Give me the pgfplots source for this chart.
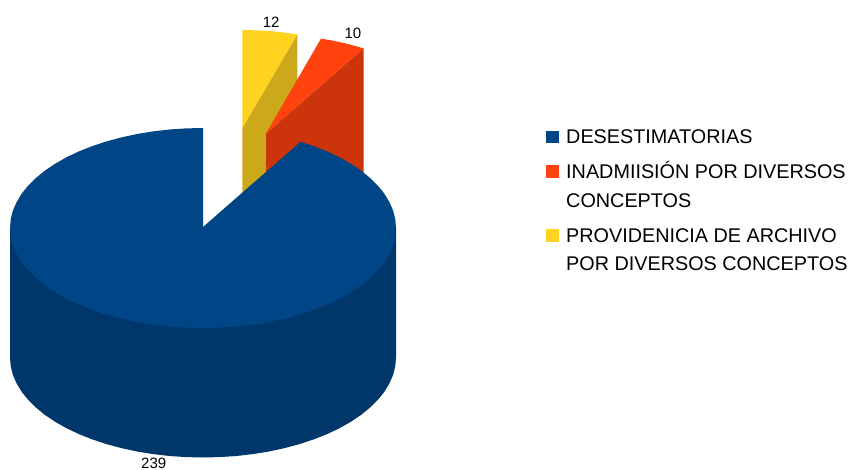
\documentclass[border=0pt]{standalone}
\usepackage{pgfplots}
\pgfplotsset{compat=1.18}
\usepackage{fontspec}
\setmainfont{Liberation Sans}
\definecolor{blueTop}{HTML}{004586}
\definecolor{blueSide}{HTML}{00376B}
\definecolor{redTop}{HTML}{FF420E}
\definecolor{redSide}{HTML}{CC350B}
\definecolor{yelTop}{HTML}{FFD320}
\definecolor{yelSide}{HTML}{CCA91A}
\tikzset{
  lab/.style={anchor=base west, inner sep=0pt, font=\fontsize{15}{18}\selectfont, text=black},
  leg/.style={anchor=base west, inner sep=0pt, font=\fontsize{19.8}{24}\selectfont, text=black},
}
\begin{document}
\begin{tikzpicture}
\path[use as bounding box] (0,0) rectangle (850pt,470pt);
\begin{axis}[
  at={(0,0)}, anchor=south west,
  scale only axis, width=850pt, height=470pt,
  xmin=0, xmax=850, ymin=0, ymax=470, y dir=reverse,
  hide axis, clip=false,
  every axis plot/.append style={draw=none, line width=0pt},
]
% yellow slice (12)
\addplot[fill=yelSide] coordinates {(297.3,34.3) (242.3,128) (242.3,258) (297.3,164)} --cycle;
\addplot[fill=yelTop] coordinates {(242.3,30) (259.1,30.4) (275.8,31.5) (297.3,34.3) (242.3,128)} --cycle;
% red slice (10)
\addplot[fill=redSide] coordinates {(363.6,48.3) (266,133.5) (266,263) (363.6,178)} --cycle;
\addplot[fill=redTop] coordinates {(321,38.6) (332,40.5) (347.6,43.9) (363.6,48.3) (266,133.5)} --cycle;
% blue slice (239), side wall
\addplot[fill=blueSide] coordinates {
(10.0,228) (10.0,357.5) (10.7,366.2) (12.9,374.9) (16.6,383.4) (21.6,391.7) (28.1,399.8) (35.9,407.5)
(44.9,414.9) (55.2,421.8) (66.5,428.2) (78.9,434.1) (92.3,439.4) (106.5,444.1) (121.4,448.1) (137.0,451.5)
(153.1,454.1) (169.5,456.0) (186.2,457.1) (203.0,457.5) (219.8,457.1) (236.5,456.0) (252.9,454.1) (269.0,451.5)
(284.6,448.1) (299.5,444.1) (313.7,439.4) (327.1,434.1) (339.5,428.2) (350.8,421.8) (361.1,414.9) (370.1,407.5)
(377.9,399.8) (384.4,391.7) (389.4,383.4) (393.1,374.9) (395.3,366.2) (396.0,357.5) (396.0,228)} --cycle;
% blue slice, top
\addplot[fill=blueTop] coordinates {
(203.0,128.0) (186.2,128.4) (169.5,129.5) (153.1,131.4) (137.0,134.0) (121.4,137.4) (106.5,141.4) (92.3,146.1)
(78.9,151.4) (66.5,157.3) (55.2,163.7) (44.9,170.6) (35.9,178.0) (28.1,185.7) (21.6,193.8) (16.6,202.1)
(12.9,210.6) (10.7,219.3) (10.0,228.0) (10.7,236.7) (12.9,245.4) (16.6,253.9) (21.6,262.2) (28.1,270.3)
(35.9,278.0) (44.9,285.4) (55.2,292.3) (66.5,298.7) (78.9,304.6) (92.3,309.9) (106.5,314.6) (121.4,318.6)
(137.0,322.0) (153.1,324.6) (169.5,326.5) (186.2,327.6) (203.0,328.0) (219.8,327.6) (236.5,326.5) (252.9,324.6)
(269.0,322.0) (284.6,318.6) (299.5,314.6) (313.7,309.9) (327.1,304.6) (339.5,298.7) (350.8,292.3) (361.1,285.4)
(370.1,278.0) (377.9,270.3) (384.4,262.2) (389.4,253.9) (393.1,245.4) (395.3,236.7) (396.0,228.0) (395.3,219.3)
(393.1,210.6) (389.4,202.1) (384.4,193.8) (377.9,185.7) (370.1,178.0) (361.1,170.6) (350.8,163.7) (339.5,157.3)
(327.1,151.4) (313.7,146.1) (300.5,141.8) (203.0,227.0)} --cycle;
% legend swatches
\addplot[fill=blueTop] coordinates {(545.7,130.7) (559,130.7) (559,143.2) (545.7,143.2)} --cycle;
\addplot[fill=redTop] coordinates {(545.7,165.2) (559,165.2) (559,178) (545.7,178)} --cycle;
\addplot[fill=yelTop] coordinates {(545.7,229) (559,229) (559,241.8) (545.7,241.8)} --cycle;
% data labels
\node[lab] at (axis cs:262.7,27.3) {12};
\node[lab] at (axis cs:344.3,38.3) {10};
\node[lab] at (axis cs:141,468.6) {239};
% legend text
\node[leg] at (axis cs:566,143.6) {DESESTIMATORIAS};
\node[leg] at (axis cs:566,178.6) {INADMIISIÓN POR DIVERSOS};
\node[leg] at (axis cs:566,207.4) {CONCEPTOS};
\node[leg] at (axis cs:566,242) {PROVIDENICIA DE ARCHIVO};
\node[leg] at (axis cs:566,270.4) {POR DIVERSOS CONCEPTOS};
\end{axis}
\end{tikzpicture}
\end{document}
